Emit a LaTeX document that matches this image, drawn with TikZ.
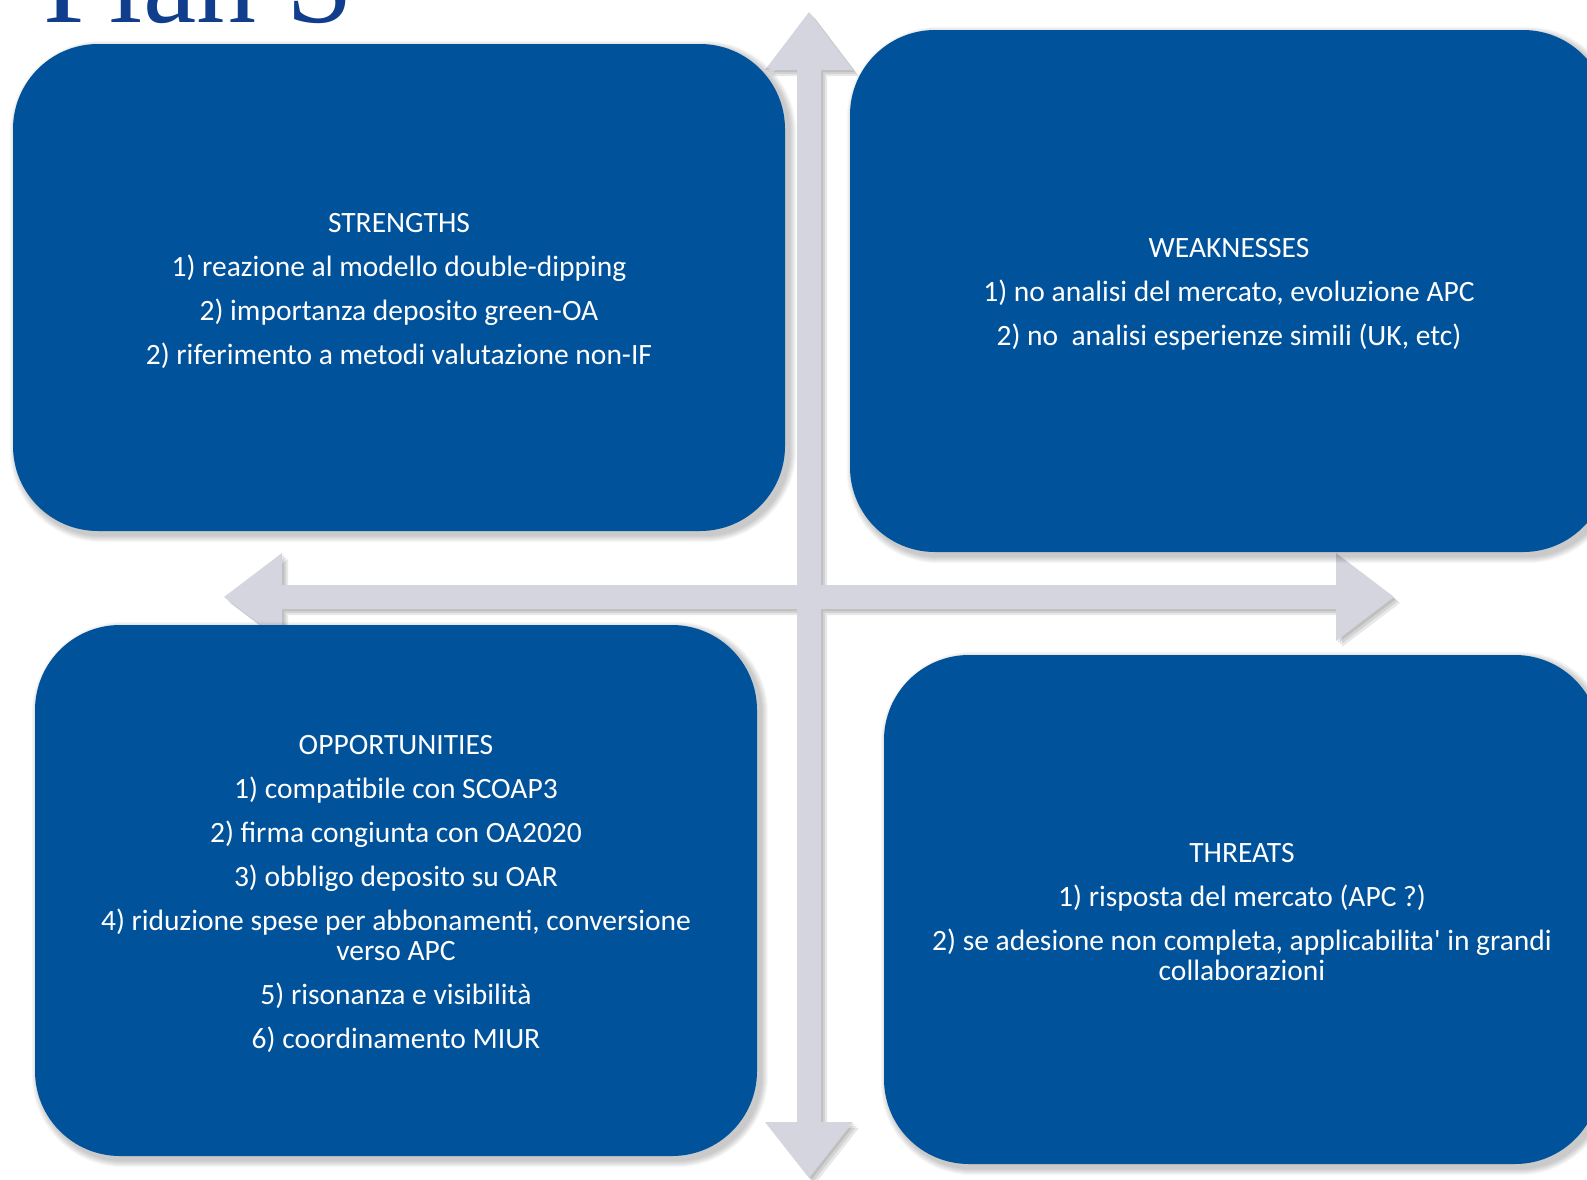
\documentclass[tikz,border=0pt]{standalone}
\usepackage{fontspec}
\newfontfamily\carlito{Carlito}
\newfontfamily\titlefont{Liberation Serif}
\pgfdeclarelayer{back}
\pgfdeclarelayer{mid}
\pgfsetlayers{back,mid,main}
\definecolor{boxblue}{RGB}{0,82,155}
\definecolor{arrowgrey}{RGB}{213,213,224}
\definecolor{titleblue}{RGB}{16,62,140}
\newcommand\softshadow[1]{%
  \begin{pgfonlayer}{mid}
  \foreach \i in {1,...,7}{%
    \pgfmathsetmacro\rr{85+\i}
    \fill[black,opacity=0.03,rounded corners=\rr pt]
      ([shift={({4-\i},{4-\i})}]#1.north west) rectangle ([shift={({4+\i},{4+\i})}]#1.south east);
  }
  \end{pgfonlayer}}
\def\crosspath{(809,12) -- (853,70) -- (821,70) -- (821,585) -- (1336,585) -- (1336,553) -- (1394,597) -- (1336,641) -- (1336,609) -- (821,609) -- (821,1122) -- (853,1122) -- (809,1178) -- (765,1122) -- (797,1122) -- (797,609) -- (282,609) -- (282,641) -- (224,597) -- (282,553) -- (282,585) -- (797,585) -- (797,70) -- (765,70) -- cycle}
\begin{document}
\begin{tikzpicture}[x=1pt,y=-1pt,
  swotbox/.style={fill=boxblue, rounded corners=85pt, inner sep=0pt},
  swottext/.style={text=white, align=center, inner sep=0pt,
    font=\carlito\fontsize{29.5}{30.5}\selectfont}]
\useasboundingbox (0,0) rectangle (1587,1179);
% title
\node[anchor=base west, inner sep=0pt, text=titleblue,
  font=\titlefont\fontsize{120}{120}\selectfont] (title) at (43,22) {Plan S};
% cross arrows
\begin{pgfonlayer}{back}
  \fill[white] (0,0) rectangle (1587,1179);
  \foreach \s in {2,4,6}{\fill[black,opacity=0.09,shift={(\s,\s)}] \crosspath;}
  \fill[arrowgrey] \crosspath;
\end{pgfonlayer}
% boxes
\node[swotbox, minimum width=772pt, minimum height=487pt] (S) at (399,287.5) {};
\node[swotbox, minimum width=758pt, minimum height=522pt] (W) at (1229,291) {};
\node[swotbox, minimum width=722pt, minimum height=531pt] (O) at (396,890.5) {};
\node[swotbox, minimum width=716pt, minimum height=509pt] (T) at (1242,909.5) {};
\softshadow{S}
\softshadow{W}
\softshadow{O}
\softshadow{T}
% texts
\node[swottext] (St) at ([yshift=-3.5pt]S.center)
  {STRENGTHS\\[13.5pt]1) reazione al modello double-dipping\\[13.5pt]2) importanza deposito green-OA\\[13.5pt]2) riferimento a metodi valutazione non-IF};
\node[swottext] (Wt) at ([yshift=-3.5pt]W.center)
  {WEAKNESSES\\[13.5pt]1) no analisi del mercato, evoluzione APC\\[13.5pt]2) no\ \ analisi esperienze simili (UK, etc)};
\node[swottext] (Ot) at ([yshift=-3.5pt]O.center)
  {OPPORTUNITIES\\[13.5pt]1) compatibile con SCOAP3\\[13.5pt]2) firma congiunta con OA2020\\[13.5pt]3) obbligo deposito su OAR\\[13.5pt]4) riduzione spese per abbonamenti, conversione\\verso APC\\[13.5pt]5) risonanza e visibilità\\[13.5pt]6) coordinamento MIUR};
\node[swottext] (Tt) at ([yshift=-2.5pt]T.center)
  {THREATS\\[13.5pt]1) risposta del mercato (APC ?)\\[13.5pt]2) se adesione non completa, applicabilita' in grandi\\collaborazioni};
\end{tikzpicture}
\end{document}
